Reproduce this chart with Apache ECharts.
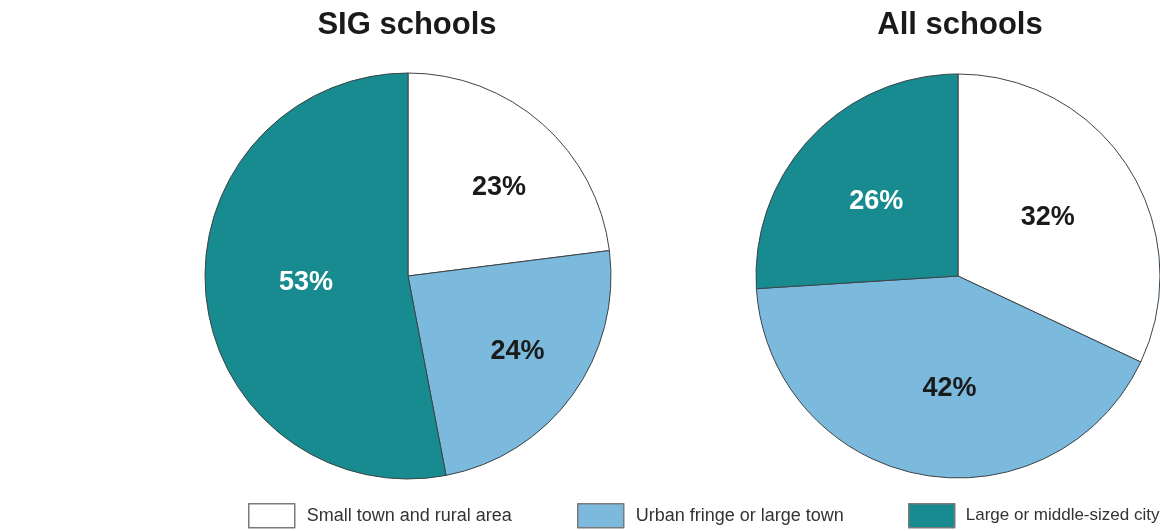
<!DOCTYPE html>
<html>
<head>
<meta charset="utf-8">
<script src="https://cdn.jsdelivr.net/npm/echarts@6/dist/echarts.min.js"></script>
<style>
html,body{margin:0;padding:0;background:#fff;}
#chart{width:1160px;height:531px;}
</style>
</head>
<body>
<div id="chart"></div>
<script>
const categories = ['Small town and rural area', 'Urban fringe or large town', 'Large or middle-sized city'];
const chartTitles = ['SIG schools', 'All schools'];
const sigValues = [23, 24, 53];
const allValues = [32, 42, 26];

const colors = ['#ffffff', '#7bb9dd', '#178b90'];
const labelColors = ['#1a1a1a', '#1a1a1a', '#ffffff'];
const sigOffsets = [[22, -10], [25, 14], [2, -3]];
const allOffsets = [[2, -3], [11, 10], [-6, -3]];

function buildData(values, offsets) {
  return categories.map((name, i) => ({
    name: name,
    value: values[i],
    itemStyle: { color: colors[i] },
    label: { color: labelColors[i], offset: offsets[i] }
  }));
}

const chart = echarts.init(document.getElementById('chart'));
const font = 'Liberation Sans, Arial, Helvetica, sans-serif';

const seriesBase = {
  type: 'pie',
  radius: [0, 203],
  startAngle: 90,
  clockwise: true,
  silent: true,
  animation: false,
  itemStyle: { borderColor: '#3d4447', borderWidth: 1 },
  label: {
    show: true,
    position: 'inside',
    formatter: '{c}%',
    fontFamily: font,
    fontWeight: 'bold',
    fontSize: 27
  },
  labelLine: { show: false },
  emphasis: { disabled: true }
};

const legendBase = {
  orient: 'horizontal',
  top: 503,
  padding: 0,
  itemWidth: 46,
  itemHeight: 24,
  itemGap: 12,
  selectedMode: false,
  icon: 'rect',
  itemStyle: { borderColor: '#7a7a7a', borderWidth: 1.5 },
  textStyle: { fontFamily: font, fontSize: 18, color: '#333', padding: [0, 0, 0, 7] }
};

chart.setOption({
  backgroundColor: '#ffffff',
  animation: false,
  title: [
    { text: chartTitles[0], left: 402, top: 5, textAlign: 'center',
      textStyle: { fontFamily: font, fontWeight: 'bold', fontSize: 31, color: '#1a1a1a' } },
    { text: chartTitles[1], left: 955, top: 5, textAlign: 'center',
      textStyle: { fontFamily: font, fontWeight: 'bold', fontSize: 31, color: '#1a1a1a' } }
  ],
  legend: [
    Object.assign({}, legendBase, { left: 248, data: [categories[0]] }),
    Object.assign({}, legendBase, { left: 577, data: [categories[1]] }),
    Object.assign({}, legendBase, { left: 908, data: [categories[2]],
      textStyle: Object.assign({}, legendBase.textStyle, { fontSize: 17, padding: [0, 0, 0, 6] }) })
  ],
  series: [
    Object.assign({}, seriesBase, { name: chartTitles[0], center: [408, 276], data: buildData(sigValues, sigOffsets) }),
    Object.assign({}, seriesBase, { name: chartTitles[1], center: [958, 276], radius: [0, 202], data: buildData(allValues, allOffsets) })
  ]
});
</script>
</body>
</html>
